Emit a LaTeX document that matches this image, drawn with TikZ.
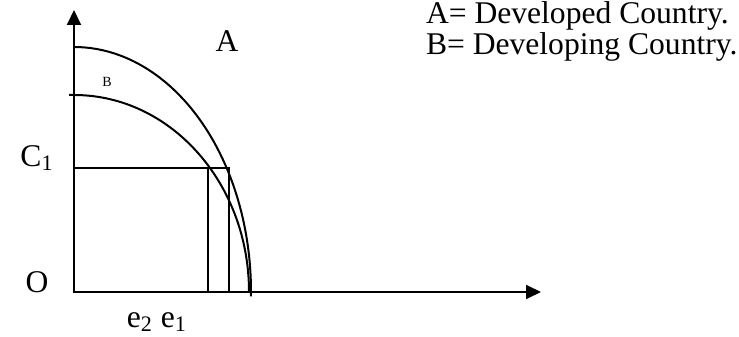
\documentclass[tikz,border=0pt]{standalone}
\usepackage{fontspec}
\setmainfont{Liberation Serif}
\usetikzlibrary{arrows.meta}

\begin{document}
\begin{tikzpicture}[x=0.5pt,y=0.5pt,line width=1pt,lbl/.style={font=\fontsize{15.8}{18}\selectfont,inner sep=0pt},axis/.style={-{Triangle[length=7.5pt,width=7pt]}}]
\useasboundingbox (-74,-45) rectangle (665,292);
\coordinate (O) at (0,0);\coordinate (ytop) at (0,282);\coordinate (xend) at (467,0);
\draw[axis] (O)--(ytop);\draw[axis] (O)--(xend);
% frontier of A and of B
\draw (0,245) arc[start angle=90,end angle=-1,x radius=177,y radius=245];
\draw (-5,197)--(0,197) arc[start angle=90,end angle=0,x radius=175,y radius=197];
\coordinate (c1) at (0,124);\coordinate (e1) at (155,0);\coordinate (e2) at (134,0);
\draw (O) rectangle (155,124);\draw (e2)--(134,124);
\node[lbl] (lA) at (153,251) {A};
\node[lbl,font=\fontsize{7}{8}\selectfont] (lB) at (33,210) {B};
\node[lbl] (lC) at (-37,134) {C\textsubscript{1}};
\node[lbl] (lO) at (-37,10) {O};
\node[lbl] (le) at (83,-30) {e\textsubscript{2} e\textsubscript{1}};
\node[lbl,anchor=west] (legA) at (351,276) {A= Developed Country.};
\node[lbl,anchor=west] (legB) at (351,245) {B= Developing Country.};
\end{tikzpicture}
\end{document}
